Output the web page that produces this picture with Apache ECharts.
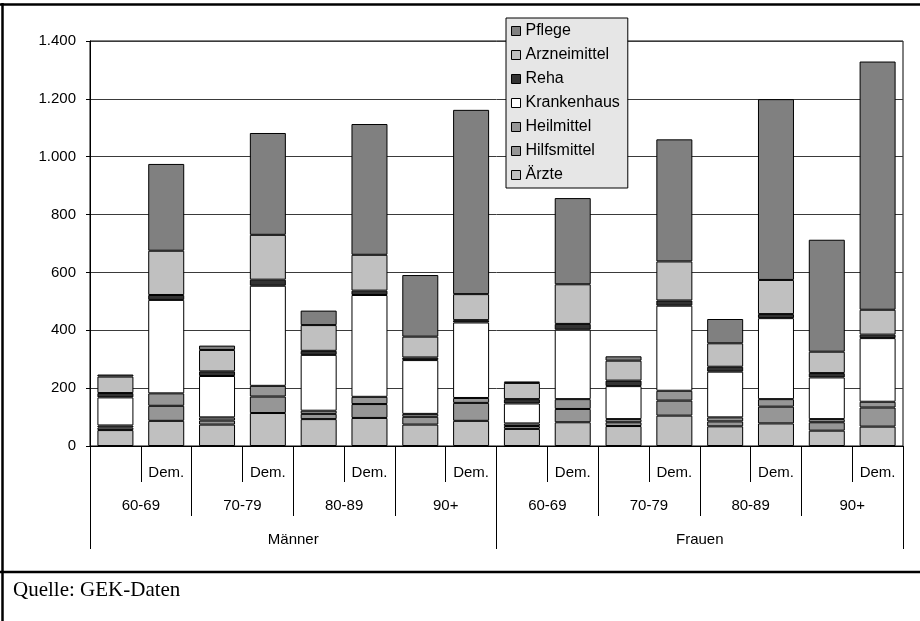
<!DOCTYPE html>
<html>
<head>
<meta charset="utf-8">
<script src="https://cdn.jsdelivr.net/npm/echarts@6/dist/echarts.min.js"></script>
<style>
html,body{margin:0;padding:0;background:#fff;}
#chart{width:920px;height:621px;}
</style>
</head>
<body>
<div id="chart"></div>
<script>
// ---- data ----
var genders = ['Männer', 'Frauen'];
var ages = ['60-69', '70-79', '80-89', '90+'];
var groupLabels = ['', 'Dem.'];
var yTicks = [0, 200, 400, 600, 800, 1000, 1200, 1400];

var aerzte       = [55, 87, 74, 114, 93, 97, 74, 87, 59, 82, 69, 105, 68, 78, 53, 67];
var hilfsmittel  = [9, 52, 14, 57, 18, 48, 27, 62, 10, 46, 13, 52, 17, 58, 29, 66];
var heilmittel   = [7, 43, 11, 37, 11, 25, 10, 17, 9, 34, 11, 34, 14, 26, 11, 20];
var krankenhaus  = [97, 323, 143, 346, 193, 352, 186, 261, 69, 240, 114, 294, 158, 280, 144, 220];
var reha         = [15, 17, 16, 21, 14, 15, 9, 8, 15, 20, 19, 18, 17, 14, 15, 12];
var arzneimittel = [57, 153, 74, 155, 89, 124, 72, 90, 56, 137, 69, 135, 81, 118, 74, 86];
var pflege       = [7, 300, 15, 352, 50, 452, 213, 637, 5, 298, 15, 422, 84, 625, 387, 858];

var seriesNames = ['Ärzte', 'Hilfsmittel', 'Heilmittel', 'Krankenhaus', 'Reha', 'Arzneimittel', 'Pflege'];
var seriesData = [aerzte, hilfsmittel, heilmittel, krankenhaus, reha, arzneimittel, pflege];
var seriesColors = ['#c0c0c0', '#969696', '#969696', '#ffffff', '#333333', '#c0c0c0', '#808080'];

// ---- categories for hierarchical axis ----
var mainCats = [], ageCats = [];
genders.forEach(function (g) {
  ages.forEach(function (a) {
    ageCats.push(g + '|' + a);
    groupLabels.forEach(function (d) { mainCats.push(g + '|' + a + '|' + d); });
  });
});
function lastPart(v) { var p = String(v).split('|'); return p[p.length - 1]; }
function fmtNum(v) {
  var s = String(Math.round(v));
  return s.replace(/\B(?=(\d{3})+(?!\d))/g, '.');
}

var FONT = '"Liberation Sans", Arial, sans-serif';
var chart = echarts.init(document.getElementById('chart'), null, { renderer: 'canvas' });

var series = seriesNames.map(function (n, i) {
  return {
    name: n,
    type: 'bar',
    stack: 'total',
    xAxisIndex: 0,
    barWidth: 36,
    data: seriesData[i],
    itemStyle: { color: seriesColors[i], borderColor: '#000', borderWidth: 1 },
    emphasis: { disabled: true }
  };
});

var option = {
  animation: false,
  backgroundColor: '#fff',
  title: {
    text: 'Quelle: GEK-Daten',
    left: 13, top: 580, padding: 0,
    textStyle: { fontFamily: '"Liberation Serif", "Times New Roman", serif', fontWeight: 'normal', fontSize: 21, color: '#000' }
  },
  graphic: [
    { type: 'line', shape: { x1: 0, y1: 4.5, x2: 920, y2: 4.5 }, style: { stroke: '#000', lineWidth: 2.5 } },
    { type: 'line', shape: { x1: 2.5, y1: 3, x2: 2.5, y2: 621 }, style: { stroke: '#000', lineWidth: 2.5 } },
    { type: 'line', shape: { x1: 0, y1: 572, x2: 920, y2: 572 }, style: { stroke: '#000', lineWidth: 2.5 } }
  ],
  legend: {
    orient: 'vertical',
    left: 506, top: 18,
    data: ['Pflege', 'Arzneimittel', 'Reha', 'Krankenhaus', 'Heilmittel', 'Hilfsmittel', 'Ärzte'],
    icon: 'rect',
    itemWidth: 9, itemHeight: 9,
    itemGap: 8,
    padding: [5, 8, 5, 5],
    backgroundColor: '#e6e6e6',
    borderColor: '#000', borderWidth: 1, borderRadius: 0,
    itemStyle: { borderColor: '#000', borderWidth: 1 },
    textStyle: { fontFamily: FONT, fontSize: 16, color: '#000', lineHeight: 16 },
    selectedMode: false
  },
  grid: {
    left: 90, right: 17, top: 41, bottom: 175,
    show: true, borderColor: '#000', borderWidth: 1, backgroundColor: 'transparent'
  },
  xAxis: [
    {
      type: 'category', data: mainCats, position: 'bottom', gridIndex: 0,
      axisLine: { show: true, lineStyle: { color: '#000', width: 1 } },
      axisTick: { show: true, interval: 0, length: 36, lineStyle: { color: '#000' } },
      axisLabel: { interval: 0, formatter: lastPart, margin: 19, fontFamily: FONT, fontSize: 15, color: '#000' },
      splitLine: { show: false }
    },
    {
      type: 'category', data: ageCats, position: 'bottom', gridIndex: 0, offset: 0,
      axisLine: { show: false },
      axisTick: { show: true, interval: 0, length: 70, lineStyle: { color: '#000' } },
      axisLabel: { interval: 0, formatter: lastPart, margin: 52, fontFamily: FONT, fontSize: 15, color: '#000' },
      splitLine: { show: false }
    },
    {
      type: 'category', data: genders, position: 'bottom', gridIndex: 0, offset: 0,
      axisLine: { show: false },
      axisTick: { show: true, interval: 0, length: 103, lineStyle: { color: '#000' } },
      axisLabel: { interval: 0, margin: 86, fontFamily: FONT, fontSize: 15, color: '#000' },
      splitLine: { show: false }
    }
  ],
  yAxis: {
    type: 'value', min: yTicks[0], max: yTicks[yTicks.length - 1], interval: yTicks[1] - yTicks[0],
    axisLine: { show: true, lineStyle: { color: '#000' } },
    axisTick: { show: true, length: 4, inside: false, lineStyle: { color: '#000' } },
    axisLabel: { formatter: fmtNum, margin: 14, fontFamily: FONT, fontSize: 15, color: '#000' },
    splitLine: { show: true, lineStyle: { color: '#3a3a3a', width: 1 } }
  },
  series: series
};
chart.setOption(option);
</script>
</body>
</html>
